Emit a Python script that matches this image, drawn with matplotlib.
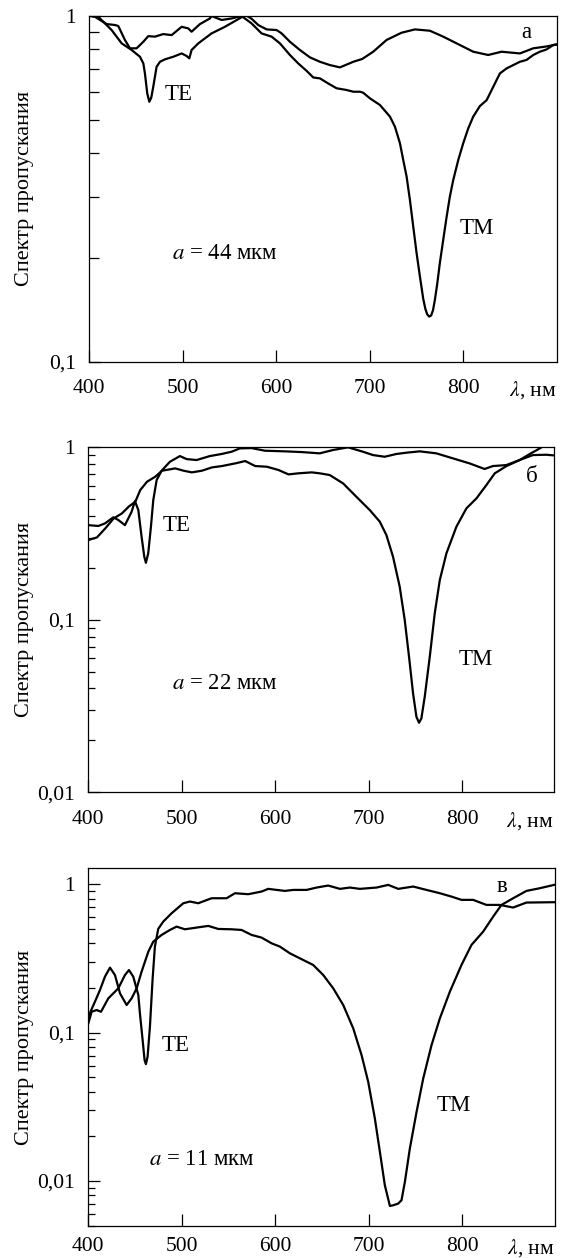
import matplotlib
matplotlib.use("Agg")
import matplotlib.pyplot as plt
from matplotlib.ticker import FixedLocator, FixedFormatter, LogLocator, NullFormatter

plt.rcParams['font.family'] = ['Liberation Serif', 'DejaVu Serif']
plt.rcParams['mathtext.fontset'] = 'stix'

# ---- panel a (a = 44 мкм) ----
te_a_wl = [400, 409.6, 423.9, 434.6, 445.3, 454.2, 457.8, 459.5, 462, 464.2, 466.3, 468.4, 472, 475.6,
           480.9, 489.8, 498.8, 504.1, 507, 509.4, 516.6, 530.8, 545.1, 562.9, 568.3, 573.6, 580.7, 589.7,
           600.4, 605.7, 614.6, 625.3, 636, 646.7, 657.4, 668.1, 682.4, 692, 703.7, 718, 734, 748.3, 764.3,
           778.6, 792.9, 810.7, 826.7, 841, 860.6, 874.9, 889, 900]
te_a = [1.0, 0.993, 0.909, 0.832, 0.796, 0.761, 0.728, 0.681, 0.596, 0.564, 0.58, 0.623, 0.712, 0.736,
        0.748, 0.761, 0.778, 0.765, 0.753, 0.796, 0.832, 0.889, 0.929, 0.99, 1.0, 0.98, 0.94, 0.913,
        0.909, 0.889, 0.841, 0.796, 0.758, 0.736, 0.72, 0.709, 0.736, 0.75, 0.787, 0.851, 0.893, 0.913, 0.905,
        0.870, 0.832, 0.787, 0.770, 0.787, 0.778, 0.805, 0.815, 0.826]

tm_a_wl = [400, 406, 418.5, 427.5, 431, 438.1, 443.5, 450.6, 457.8, 463.1, 470.2, 479.1, 488.1, 498.8,
           505.9, 509.4, 518.4, 529, 530.8, 541.5, 552.2, 562.9, 573.6, 584.3, 595, 603.9, 614.6, 623.5,
           632.4, 639.6, 646.7, 655.6, 664.5, 675.2, 682.4, 689.5, 693, 700.2, 710.9, 721.6, 726.9, 732.3,
           735.8, 739.4, 743, 746.5, 750.1, 753.7, 757.2, 759.5, 761.5, 763.6, 765.7, 767.7, 769.7, 772.2,
           775, 778.6, 782.2, 785.7, 789.3, 794.7, 800, 805.3, 810.7, 817.8, 825, 832.1, 839.2, 846.3,
           853.5, 860.6, 867.7, 874.9, 882, 889.1, 896.3, 900]
tm_a = [1.0, 0.993, 0.946, 0.94, 0.934, 0.851, 0.805, 0.805, 0.841, 0.873, 0.87, 0.885, 0.879, 0.929,
        0.919, 0.899, 0.946, 0.982, 0.998, 0.972, 0.982, 0.998, 0.95, 0.889, 0.87, 0.832, 0.77, 0.728,
        0.693, 0.663, 0.659, 0.637, 0.617, 0.61, 0.603, 0.603, 0.599, 0.577, 0.552, 0.511, 0.478, 0.428,
        0.383, 0.343, 0.293, 0.246, 0.206, 0.176, 0.152, 0.142, 0.137, 0.135, 0.136, 0.141, 0.151, 0.168,
        0.193, 0.225, 0.262, 0.3, 0.335, 0.383, 0.428, 0.472, 0.511, 0.548, 0.57, 0.623, 0.681, 0.704,
        0.72, 0.736, 0.745, 0.77, 0.787, 0.799, 0.823, 0.826]

# ---- panel b (a = 22 мкм) ----
te_b_wl = [400, 410.7, 417.8, 426.8, 432.1, 439.2, 446.3, 449.9, 453.5, 457, 459.9, 461.6, 464.1, 467,
           469.5, 473.1, 478.4, 487.3, 498, 505.1, 515.8, 530, 542.5, 553.2, 562.1, 574.6, 588.8, 610.2,
           628, 647.5, 661.7, 677.8, 693.8, 704.5, 717, 729.4, 740.1, 754.4, 772.2, 790, 807.8, 823.8,
           832.7, 847, 861.2, 875.4, 889.7, 898]
te_b = [0.354, 0.35, 0.362, 0.393, 0.379, 0.354, 0.423, 0.488, 0.433, 0.303, 0.232, 0.214, 0.243, 0.347,
        0.495, 0.646, 0.732, 0.825, 0.89, 0.855, 0.844, 0.89, 0.915, 0.943, 0.986, 0.99, 0.956, 0.948,
        0.939, 0.923, 0.965, 1.0, 0.943, 0.902, 0.882, 0.915, 0.931, 0.948, 0.923, 0.863, 0.807, 0.749,
        0.779, 0.789, 0.844, 0.902, 0.906, 0.898]

tm_b_wl = [400, 409.3, 418.2, 427.1, 436, 443.2, 450.3, 455.6, 462.8, 471.7, 478.8, 493, 501.9, 510.8,
           521.5, 532.2, 542.9, 557.1, 567.8, 578.5, 591, 603.4, 614.1, 624.8, 639, 647.5, 658.2, 672.5,
           686.7, 701, 711.7, 718.8, 725.9, 733, 738.4, 743, 747.3, 750.9, 753.7, 756.2, 759.8, 765.2,
           770.5, 775.9, 783, 793.7, 804.4, 815.1, 825.8, 834.7, 847.2, 861.4, 872.1, 882.8, 890, 898]
tm_b = [0.29, 0.3006, 0.339, 0.387, 0.414, 0.453, 0.484, 0.566, 0.632, 0.676, 0.732, 0.755, 0.732, 0.716,
        0.732, 0.765, 0.779, 0.807, 0.833, 0.779, 0.772, 0.739, 0.697, 0.707, 0.716, 0.707, 0.691, 0.618,
        0.517, 0.433, 0.371, 0.31, 0.232, 0.156, 0.0998, 0.0611, 0.0375, 0.0274, 0.0253, 0.0268, 0.0358, 0.0611,
        0.109, 0.17, 0.243, 0.347, 0.443, 0.506, 0.605, 0.707, 0.779, 0.844, 0.915, 0.986, 1.045, 1.1]

# ---- panel c (a = 11 мкм) ----
te_c_wl = [400, 403.6, 408.9, 413.6, 421.4, 432.1, 439.2, 443.5, 448.1, 453.5, 455.2, 458.1, 460.2, 461.6,
           463.4, 465.9, 468.7, 471.2, 474.8, 480.2, 489.1, 501.6, 508.7, 517.6, 531.8, 547.9, 556.8, 571,
           585.3, 592.4, 601.3, 610.2, 619.2, 633.4, 644.1, 656.5, 669, 679.7, 690.4, 708.2, 720.7, 731.4,
           747.4, 761.6, 775.9, 788.3, 799, 811.5, 825.7, 840, 854.2, 868.5, 898]
te_c = [0.1153, 0.1382, 0.1419, 0.1382, 0.17, 0.1987, 0.2443, 0.2639, 0.238, 0.179, 0.1347, 0.089, 0.0652, 0.0613,
        0.0687, 0.1095, 0.226, 0.38, 0.5, 0.56, 0.637, 0.744, 0.764, 0.744, 0.804, 0.804, 0.869, 0.856,
        0.892, 0.93, 0.915, 0.901, 0.915, 0.915, 0.949, 0.979, 0.93, 0.949, 0.93, 0.949, 0.989, 0.93,
        0.964, 0.915, 0.869, 0.825, 0.784, 0.784, 0.725, 0.725, 0.696, 0.752, 0.756]

tm_c_wl = [400, 407.1, 412.5, 417.8, 423.2, 428.5, 433.9, 441, 446.3, 451.7, 457, 464.2, 469.5, 478.4,
           487.3, 494.4, 503.3, 515.8, 528.3, 539, 553.2, 563.9, 574.6, 585.3, 596, 604.9, 615.6, 629.8,
           640.5, 651.2, 661.9, 672.6, 683.3, 692.2, 699.3, 706.4, 711.8, 717.1, 722.5, 726, 731.3, 734.9,
           738.5, 743.8, 751, 758.1, 767, 775.9, 786.6, 799, 809.7, 822.2, 832.9, 841.8, 854.3, 868.5, 882.7, 898]
tm_c = [0.128, 0.1615, 0.1936, 0.238, 0.2739, 0.2443, 0.1838, 0.1534, 0.17, 0.1987, 0.2574, 0.351, 0.41, 0.455,
        0.4916, 0.5177, 0.4967, 0.51, 0.5234, 0.4993, 0.4967, 0.4916, 0.455, 0.4365, 0.3996, 0.3795, 0.342, 0.3084,
        0.2854, 0.2444, 0.1987, 0.1533, 0.1067, 0.0705, 0.0466, 0.0264, 0.0157, 0.00935, 0.00679, 0.00686, 0.00704, 0.00742,
        0.00985, 0.01653, 0.0292, 0.049, 0.0823, 0.1246, 0.1886, 0.2853, 0.3895, 0.479, 0.6045, 0.725, 0.804, 0.901, 0.939, 0.989]

x_ticks = [400, 500, 600, 700, 800]
ylabel = "Спектр пропускания"

panels = [
    dict(rect=[0.1589, 0.7125, 0.8317, 0.2750], xlim=(400, 900), ylim=(0.1, 1.0),
         yt=[0.1, 1], ytl=["0,1", "1"], mlen=7, xpad=12.5,
         curves=[(te_a_wl, te_a), (tm_a_wl, tm_a)],
         te=(496, 0.59), tm=(814, 0.242), a=(545, 0.205, "44"), letter=(868, 0.897, "а")),
    dict(rect=[0.1571, 0.3702, 0.8286, 0.2742], xlim=(400, 898), ylim=(0.01, 1.0),
         yt=[0.01, 0.1, 1], ytl=["0,01", "0,1", "1"], mlen=5, xpad=12.5,
         curves=[(te_b_wl, te_b), (tm_b_wl, tm_b)],
         te=(495, 0.352), tm=(814, 0.0589), a=(546, 0.0425, "22"), letter=(874, 0.682, "б")),
    dict(rect=[0.1571, 0.0257, 0.8304, 0.2841], xlim=(400, 899), ylim=(0.005, 1.28),
         yt=[0.01, 0.1, 1], ytl=["0,01", "0,1", "1"], mlen=5, xpad=8,
         curves=[(te_c_wl, te_c), (tm_c_wl, tm_c)],
         te=(493, 0.0817), tm=(791, 0.0324), a=(521, 0.014, "11"), letter=(842, 0.96, "в")),
]

fig = plt.figure(figsize=(5.62, 12.58), dpi=100)

for p in panels:
    ax = fig.add_axes(p["rect"])
    for wl, val in p["curves"]:
        ax.plot(wl, val, color="black", lw=1.6, solid_joinstyle="round")
    ax.set_yscale("log")
    ax.set_xlim(*p["xlim"])
    ax.set_ylim(*p["ylim"])

    ax.xaxis.set_major_locator(FixedLocator(x_ticks))
    ax.set_xticklabels([str(t) for t in x_ticks])
    ax.yaxis.set_major_locator(FixedLocator(p["yt"]))
    ax.yaxis.set_major_formatter(FixedFormatter(p["ytl"]))
    ax.yaxis.set_minor_locator(LogLocator(base=10, subs=range(2, 10)))
    ax.yaxis.set_minor_formatter(NullFormatter())

    ax.tick_params(axis="x", which="major", direction="in", length=8.5, width=0.9,
                   labelsize=15.5, pad=p["xpad"], top=False)
    ax.tick_params(axis="y", which="major", direction="in", length=8.5, width=0.9,
                   labelsize=15.5, pad=9.5, right=False)
    ax.tick_params(axis="y", which="minor", direction="in", length=p["mlen"], width=0.9, right=False)
    for s in ax.spines.values():
        s.set_linewidth(0.9)

    ax.annotate(r"$\lambda$, нм", xy=(1, 0), xycoords="axes fraction", xytext=(0, -p["xpad"]),
                textcoords="offset points", ha="right", va="top", fontsize=15.5)

    ax.text(p["te"][0], p["te"][1], "TE", ha="center", va="center", fontsize=16.5)
    ax.text(p["tm"][0], p["tm"][1], "TM", ha="center", va="center", fontsize=16.5)
    ax.text(p["a"][0], p["a"][1], r"$a$ = " + p["a"][2] + " мкм", ha="center", va="center", fontsize=16.5)
    ax.text(p["letter"][0], p["letter"][1], p["letter"][2], ha="center", va="center", fontsize=16.5)

    b = p["rect"]
    fig.text(0.0436, b[1] + b[3] / 2, ylabel, rotation=90, ha="center", va="center", fontsize=16)

fig.savefig("out.png", dpi=100)
